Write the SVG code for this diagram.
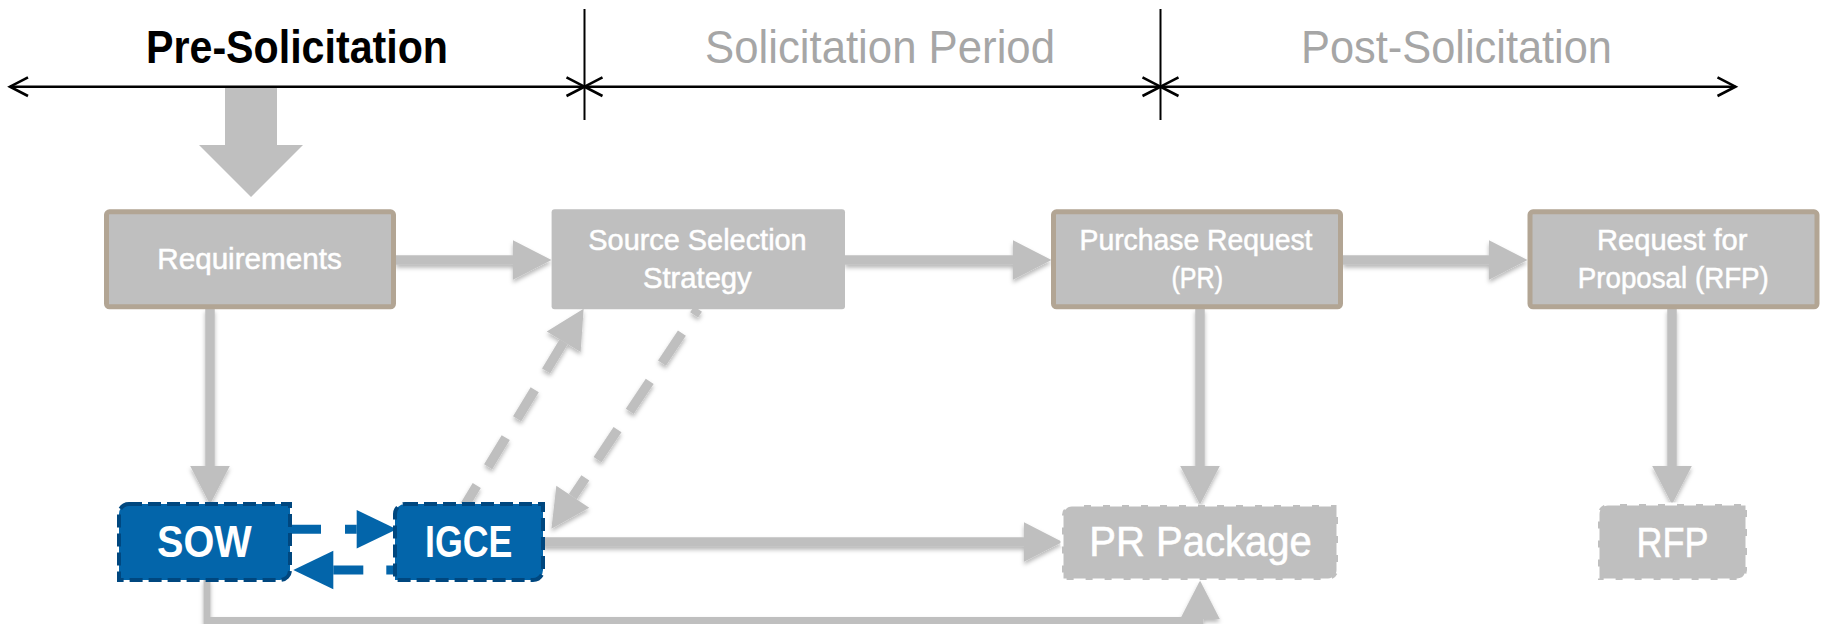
<svg xmlns="http://www.w3.org/2000/svg" width="1824" height="624" viewBox="0 0 1824 624">
  <defs>
    <style>
      text { font-family: "Liberation Sans", Arial, sans-serif; }
      .phase { font-size: 46px; }
      .phase-on { fill: #000; font-weight: bold; }
      .phase-off { fill: #A6A6A6; }
      .timeline { stroke: #000; stroke-width: 2.6; fill: none; }
      .tick { stroke: #000; stroke-width: 2; }
      .box { fill: #BFBFBF; }
      .box-edge { fill: #BFBFBF; stroke: #B2A594; stroke-width: 5; }
      .doc { fill: #BFBFBF; stroke: #FFFFFF; stroke-width: 3; stroke-dasharray: 12 7; }
      .doc-blue { fill: #0365AA; stroke: #00477F; stroke-width: 4; stroke-dasharray: 13 6; }
      .label { fill: #FFFFFF; stroke: #FFFFFF; stroke-width: 0.5; font-size: 29px; }
      .doc-label { fill: #FFFFFF; stroke: #FFFFFF; stroke-width: 0.6; font-size: 42px; }
      .doc-label-bold { fill: #FFFFFF; font-size: 44px; font-weight: bold; }
      .flow { stroke: #BFBFBF; stroke-width: 9.5; fill: none; filter: url(#soft); }
      .flow-dash { stroke: #BFBFBF; stroke-width: 9.5; fill: none; filter: url(#soft); }
      .flow-blue { stroke: #0365AA; stroke-width: 9; fill: none; }
    </style>
    <!-- user-space region so straight horizontal/vertical paths still render -->
    <filter id="soft" filterUnits="userSpaceOnUse" x="0" y="0" width="1824" height="624">
      <feDropShadow dx="0" dy="3" stdDeviation="2" flood-color="#000" flood-opacity="0.28"/>
    </filter>
    <marker id="chev" markerUnits="userSpaceOnUse" viewBox="-22 -12 24 24" markerWidth="24" markerHeight="24" refX="0" refY="0" orient="auto-start-reverse" overflow="visible">
      <path d="M-18 -9.3 L0 0 L-18 9.3" fill="none" stroke="#000" stroke-width="2.6"/>
    </marker>
    <marker id="headGray" markerUnits="userSpaceOnUse" viewBox="0 -21 40 42" markerWidth="40" markerHeight="42" refX="0" refY="0" orient="auto-start-reverse" overflow="visible">
      <path d="M0 -19.8 L38.5 0 L0 19.8 Z" fill="#BFBFBF" stroke="none"/>
    </marker>
    <marker id="headBlue" markerUnits="userSpaceOnUse" viewBox="0 -21 42 42" markerWidth="42" markerHeight="42" refX="0" refY="0" orient="auto-start-reverse" overflow="visible">
      <path d="M0 -19.3 L40 0 L0 19.3 Z" fill="#0365AA" stroke="none"/>
    </marker>
  </defs>

  <rect width="1824" height="624" fill="#FFFFFF"/>

  <!-- phase timeline -->
  <g id="phases">
    <line class="tick" x1="584.5" y1="9" x2="584.5" y2="120"/>
    <line class="tick" x1="1160.5" y1="9" x2="1160.5" y2="120"/>
    <path class="timeline" d="M10 86.7 H584.5" marker-start="url(#chev)" marker-end="url(#chev)"/>
    <path class="timeline" d="M584.5 86.7 H1160.5" marker-start="url(#chev)" marker-end="url(#chev)"/>
    <path class="timeline" d="M1160.5 86.7 H1735.5" marker-start="url(#chev)" marker-end="url(#chev)"/>
    <text class="phase phase-on" x="146" y="62.7" textLength="302" lengthAdjust="spacingAndGlyphs">Pre-Solicitation</text>
    <text class="phase phase-off" x="705" y="62.7" textLength="350" lengthAdjust="spacingAndGlyphs">Solicitation Period</text>
    <text class="phase phase-off" x="1301" y="62.7" textLength="311" lengthAdjust="spacingAndGlyphs">Post-Solicitation</text>
    <!-- current-phase pointer -->
    <polygon points="225,88 277,88 277,145 303,145 251,197 199,145 225,145" fill="#BFBFBF"/>
  </g>

  <!-- connectors -->
  <g id="connectors">
    <path class="flow" d="M396 260 H513" marker-end="url(#headGray)"/>
    <path class="flow" d="M845 260 H1013" marker-end="url(#headGray)"/>
    <path class="flow" d="M1343 260 H1489" marker-end="url(#headGray)"/>
    <path class="flow" d="M210 309 V466" marker-end="url(#headGray)"/>
    <path class="flow" d="M1200 309 V466" marker-end="url(#headGray)"/>
    <path class="flow" d="M1672 309 V466" marker-end="url(#headGray)"/>
    <path class="flow" d="M543 542 H1024" marker-end="url(#headGray)"/>
    <path class="flow" d="M207 580 V620.5 H1200 V619" style="stroke-width:7" marker-end="url(#headGray)"/>
    <path class="flow-dash" d="M563.7 341.8 L465 505" stroke-dasharray="34 22" marker-start="url(#headGray)"/>
    <path class="flow-dash" d="M698 309 L572.8 496.7" stroke-dasharray="36 22" stroke-dashoffset="29" marker-end="url(#headGray)"/>
    <path class="flow-blue" d="M290 529.3 H356.7" stroke-dasharray="31 24" marker-end="url(#headBlue)"/>
    <path class="flow-blue" d="M333.3 570 H398" stroke-dasharray="30 23" marker-start="url(#headBlue)"/>
  </g>

  <!-- process steps -->
  <g id="requirements">
    <rect class="box-edge" x="106.5" y="211.8" width="287" height="95" rx="3"/>
    <text class="label" x="157.3" y="269.3" textLength="184.4" lengthAdjust="spacingAndGlyphs">Requirements</text>
  </g>
  <g id="source-selection-strategy">
    <rect class="box" x="551.6" y="209.3" width="293.4" height="100" rx="3"/>
    <text class="label" x="588.3" y="250" textLength="218.4" lengthAdjust="spacingAndGlyphs">Source Selection</text>
    <text class="label" x="643" y="288.3" textLength="108.7" lengthAdjust="spacingAndGlyphs">Strategy</text>
  </g>
  <g id="purchase-request">
    <rect class="box-edge" x="1053.5" y="211.8" width="287" height="95" rx="3"/>
    <text class="label" x="1079.5" y="250" textLength="233" lengthAdjust="spacingAndGlyphs">Purchase Request</text>
    <text class="label" x="1171.5" y="288.3" textLength="51.5" lengthAdjust="spacingAndGlyphs">(PR)</text>
  </g>
  <g id="request-for-proposal">
    <rect class="box-edge" x="1530" y="211.8" width="287" height="95" rx="3"/>
    <text class="label" x="1597" y="250" textLength="150.5" lengthAdjust="spacingAndGlyphs">Request for</text>
    <text class="label" x="1577.8" y="288.3" textLength="191" lengthAdjust="spacingAndGlyphs">Proposal (RFP)</text>
  </g>

  <!-- documents -->
  <g id="sow">
    <path class="doc-blue" d="M129 504 H290 V570 A10 10 0 0 1 280 580 H119 V514 A10 10 0 0 1 129 504 Z"/>
    <text class="doc-label-bold" x="157" y="556.7" textLength="94.7" lengthAdjust="spacingAndGlyphs">SOW</text>
  </g>
  <g id="igce">
    <path class="doc-blue" d="M405 504 H543 V570 A10 10 0 0 1 533 580 H395 V514 A10 10 0 0 1 405 504 Z"/>
    <text class="doc-label-bold" x="425" y="556.7" textLength="87.3" lengthAdjust="spacingAndGlyphs">IGCE</text>
  </g>
  <g id="pr-package">
    <path class="doc" d="M1072 505 H1338 V570 A10 10 0 0 1 1328 580 H1062 V515 A10 10 0 0 1 1072 505 Z"/>
    <text class="doc-label" x="1089.3" y="555.5" textLength="222.4" lengthAdjust="spacingAndGlyphs">PR Package</text>
  </g>
  <g id="rfp">
    <path class="doc" d="M1608 504 H1747 V570 A10 10 0 0 1 1737 580 H1598 V514 A10 10 0 0 1 1608 504 Z"/>
    <text class="doc-label" x="1636.6" y="557" textLength="71.9" lengthAdjust="spacingAndGlyphs">RFP</text>
  </g>
</svg>
